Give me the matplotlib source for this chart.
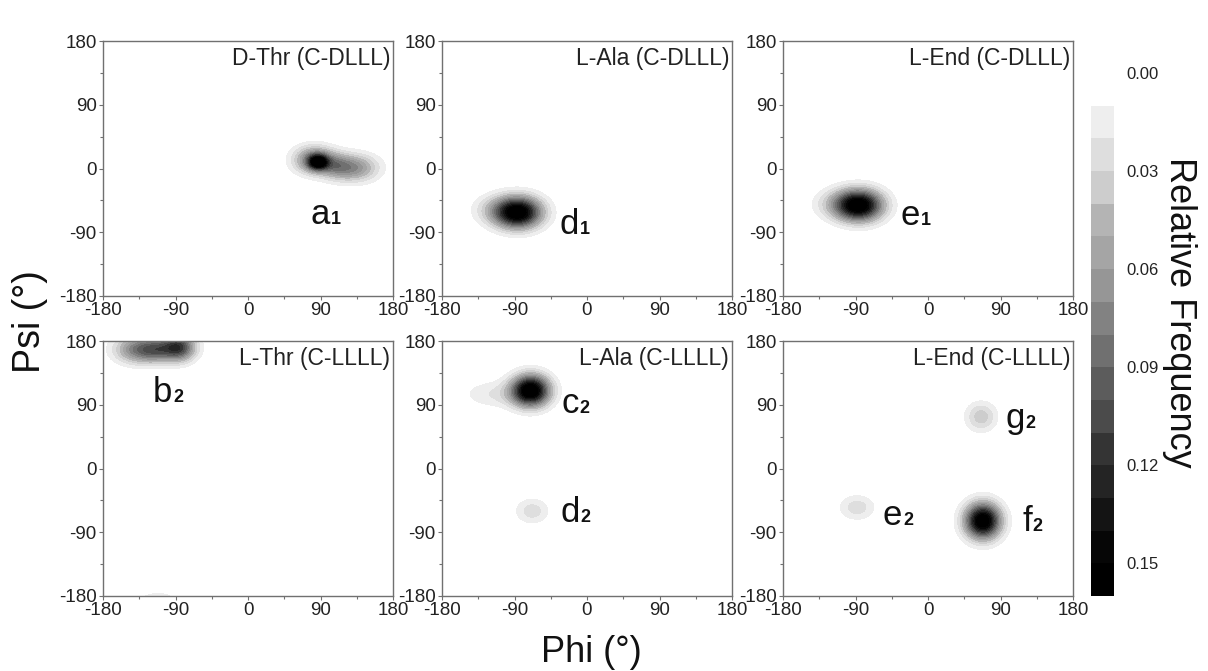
import numpy as np
import matplotlib
matplotlib.use("Agg")
import matplotlib.pyplot as plt
from matplotlib.colors import ListedColormap, BoundaryNorm

plt.rcParams["font.family"] = ["Liberation Sans", "DejaVu Sans"]
plt.rcParams["axes.unicode_minus"] = False

# contour levels of relative frequency and the grey of each band
LEVELS = [0.01, 0.02, 0.03, 0.04, 0.05, 0.06, 0.07, 0.08, 0.09, 0.10,
          0.11, 0.12, 0.13, 0.14, 0.15, 0.16]
BAND_GREYS = [238, 222, 205, 180, 165, 150, 130, 112, 92, 75, 52, 36, 20, 6, 0]
CB_TICKS = [0.00, 0.03, 0.06, 0.09, 0.12, 0.15]

TITLES = ["D-Thr (C-DLLL)", "L-Ala (C-DLLL)", "L-End (C-DLLL)",
          "L-Thr (C-LLLL)", "L-Ala (C-LLLL)", "L-End (C-LLLL)"]

# populated basins: (phi, psi, peak frequency, spread phi, spread psi)
PEAKS_DTHR_DLLL = [(87, 9, 0.11, 8, 7), (82, 12, 0.08, 17, 13),
                   (108, 4, 0.04, 14, 12), (132, 1, 0.065, 20, 13)]
PEAKS_LALA_DLLL = [(-86, -62, 0.17, 20, 15), (-118, -58, 0.02, 18, 14)]
PEAKS_LEND_DLLL = [(-86, -52, 0.17, 20, 15), (-118, -50, 0.02, 18, 14)]
PEAKS_LTHR_LLLL = [(-86, 171, 0.11, 14, 13), (-135, 168, 0.08, 20, 13),
                   (-112, 168, 0.05, 14, 12), (-112, -184, 0.014, 22, 9)]
PEAKS_LALA_LLLL = [(-70, 110, 0.17, 16, 15), (-112, 105, 0.02, 28, 13),
                   (-68, -60, 0.026, 14, 12)]
PEAKS_LEND_LLLL = [(66, 73, 0.036, 13, 14), (68, -74, 0.17, 15, 17),
                   (-88, -55, 0.026, 15, 12)]
ALL_PEAKS = [PEAKS_DTHR_DLLL, PEAKS_LALA_DLLL, PEAKS_LEND_DLLL,
             PEAKS_LTHR_LLLL, PEAKS_LALA_LLLL, PEAKS_LEND_LLLL]

# basin labels: (letter, subscript, phi, psi) at the letter/digit join on the baseline
LABELS = [[("a", "1", 102, -78)],
          [("d", "1", -10, -92)],
          [("e", "1", -10, -80)],
          [("b", "2", -94, 94)],
          [("c", "2", -10, 78), ("d", "2", -9, -76)],
          [("g", "2", 120, 57), ("e", "2", -32, -80), ("f", "2", 129, -88)]]

AX_LEFT = [103, 442, 783]
AX_TOP = [41, 341]
AX_W, AX_H = 290, 255
W, H = 1208, 671


def wrap(d):
    return (d + 180) % 360 - 180


def density(peaks, phi, psi):
    z = np.zeros_like(phi)
    for p0, s0, amp, sp, ss in peaks:
        z += amp * np.exp(-0.5 * ((wrap(phi - p0) / sp) ** 2 + ((psi - s0) / ss) ** 2))
    return z


def main():
    grid = np.linspace(-180, 180, 361)
    phi, psi = np.meshgrid(grid, grid)
    colors = [(g / 255, g / 255, g / 255) for g in BAND_GREYS]
    cmap = ListedColormap(colors)
    cmap.set_over("black")
    norm = BoundaryNorm(LEVELS, cmap.N)

    fig = plt.figure(figsize=(W / 100, H / 100), dpi=100)
    spine_c = "#707070"
    for i, (title, peaks, labels) in enumerate(zip(TITLES, ALL_PEAKS, LABELS)):
        r, c = divmod(i, 3)
        ax = fig.add_axes([AX_LEFT[c] / W, 1 - (AX_TOP[r] + AX_H) / H, AX_W / W, AX_H / H])
        z = density(peaks, phi, psi)
        ax.contourf(grid, grid, z, levels=LEVELS, cmap=cmap, norm=norm, extend="max")
        ax.set_xlim(-180, 180)
        ax.set_ylim(-180, 180)
        ticks = [-180, -90, 0, 90, 180]
        ax.set_xticks(ticks)
        ax.set_yticks(ticks)
        ax.set_xticks([-135, -45, 45, 135], minor=True)
        ax.set_yticks([-135, -45, 45, 135], minor=True)
        ax.tick_params(which="both", direction="out", color=spine_c, width=0.8,
                       labelsize=13.5, labelcolor="#222222", pad=1.5)
        ax.tick_params(which="major", length=3)
        ax.tick_params(which="minor", length=2)
        for s in ax.spines.values():
            s.set_color(spine_c)
            s.set_linewidth(1.0)
        ax.text(0.99, 0.975, title, transform=ax.transAxes, ha="right", va="top",
                fontsize=16.5, color="#222222")
        for letter, sub, x, y in labels:
            ax.text(x, y, letter, ha="right", va="baseline", fontsize=25,
                    color="#111111")
            ax.annotate(sub, (x, y), xytext=(0.5, 0), textcoords="offset points",
                        ha="left", va="baseline", fontsize=13, color="#111111",
                        fontweight="bold")

    # colour scale, drawn as stacked bands with 0.00 above the first band
    cax = fig.add_axes([1091 / W, 1 - 596 / H, 23 / W, (596 - 73) / H])
    cax.bar(0.5, np.diff(LEVELS), bottom=LEVELS[:-1], width=1, color=colors,
            align="center")
    cax.set_xlim(0, 1)
    cax.set_ylim(0.16, 0.0)
    cax.set_yticks(CB_TICKS)
    cax.set_yticklabels([f"{t:.2f}" for t in CB_TICKS])
    cax.yaxis.tick_right()
    cax.tick_params(axis="y", length=0, pad=9, labelsize=12, labelcolor="#222222")
    cax.set_xticks([])
    for s in cax.spines.values():
        s.set_visible(False)

    fig.text(30 / W, 1 - 322 / H, "Psi (°)", rotation=90, ha="center", va="center",
             fontsize=27, color="#111111")
    fig.text(591 / W, 1 - 652 / H, "Phi (°)", ha="center", va="center",
             fontsize=26, color="#111111")
    fig.text(1180 / W, 1 - 312 / H, "Relative Frequency", rotation=270,
             ha="center", va="center", fontsize=26, color="#111111")

    fig.savefig("out.png", dpi=100)


if __name__ == "__main__":
    main()
